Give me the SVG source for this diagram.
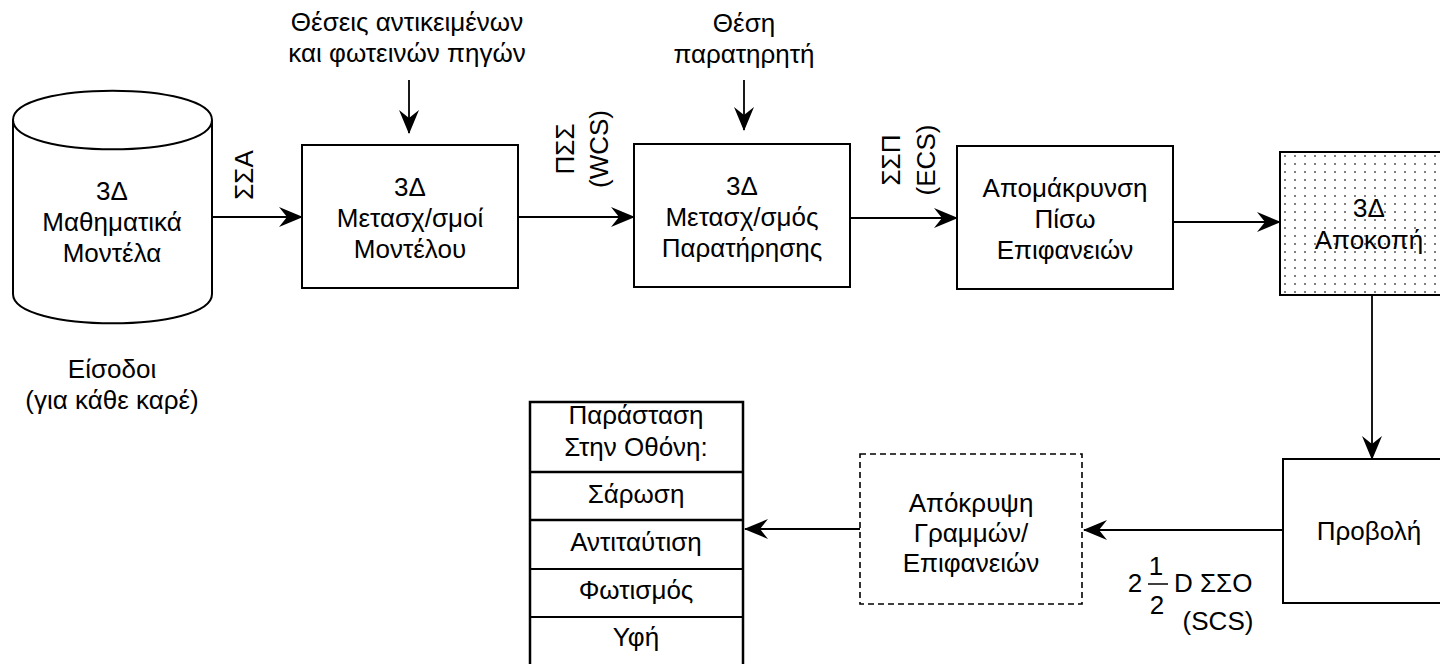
<svg xmlns="http://www.w3.org/2000/svg" width="1440" height="664" viewBox="0 0 1440 664">
<style>
text{font-family:"Liberation Sans",Arial,sans-serif;font-size:26px;fill:#000;text-anchor:middle}
.box{fill:#fff;stroke:#000;stroke-width:2}
.dash{fill:#fff;stroke:#000;stroke-width:1.6;stroke-dasharray:6 4}
.ln{fill:none;stroke:#000;stroke-width:1.8}
.st{text-anchor:start}
</style>
<defs>
<marker id="ah" viewBox="0 0 24 20" refX="23" refY="10" markerWidth="24" markerHeight="20" markerUnits="userSpaceOnUse" orient="auto">
<path d="M0,0 L24,10 L0,20 L8,10 Z" fill="#000"/>
</marker>
<pattern id="dots" width="10" height="8" patternUnits="userSpaceOnUse" x="1280" y="152">
<circle cx="5" cy="4" r="1" fill="#555"/>
</pattern>
</defs>
<rect width="1440" height="664" fill="#fff"/>

<g id="connectors">
<line class="ln" x1="212" y1="217" x2="302" y2="217" marker-end="url(#ah)"/>
<line class="ln" x1="518" y1="217" x2="634" y2="217" marker-end="url(#ah)"/>
<line class="ln" x1="850" y1="218" x2="957" y2="218" marker-end="url(#ah)"/>
<line class="ln" x1="1173" y1="222" x2="1280" y2="222" marker-end="url(#ah)"/>
<line class="ln" x1="1372" y1="295" x2="1372" y2="459" marker-end="url(#ah)"/>
<line class="ln" x1="1283" y1="530" x2="1084" y2="530" marker-end="url(#ah)"/>
<line class="ln" x1="860" y1="529" x2="745" y2="529" marker-end="url(#ah)"/>
<line class="ln" x1="409" y1="80" x2="409" y2="133" marker-end="url(#ah)"/>
<line class="ln" x1="744" y1="80" x2="744" y2="130" marker-end="url(#ah)"/>
<text transform="translate(253,175) rotate(-90)">ΣΣΑ</text>
<text transform="translate(574,149) rotate(-90)">ΠΣΣ</text>
<text transform="translate(608,149) rotate(-90)">(WCS)</text>
<text transform="translate(900,160) rotate(-90)">ΣΣΠ</text>
<text transform="translate(935,160) rotate(-90)">(ECS)</text>
<text x="1135" y="592">2</text>
<text x="1156" y="575">1</text>
<line x1="1148" y1="584" x2="1168" y2="584" stroke="#000" stroke-width="1.5"/>
<text x="1157" y="614">2</text>
<text class="st" x="1174" y="592">D ΣΣΟ</text>
<text x="1218" y="630">(SCS)</text>
</g>

<g id="input-models">
<path d="M13,120 C13,81 212,81 212,120 L212,294 C212,333 13,333 13,294 Z" fill="#fff" stroke="#000" stroke-width="2"/>
<path d="M13,120 C13,159 212,159 212,120" fill="none" stroke="#000" stroke-width="2"/>
<text x="112" y="200">3Δ</text>
<text x="112" y="231">Μαθηματικά</text>
<text x="112" y="262">Μοντέλα</text>
</g>

<g id="inputs-label">
<text x="112" y="378">Είσοδοι</text>
<text x="112" y="409">(για κάθε καρέ)</text>
</g>

<g id="objects-label">
<text x="407" y="31">Θέσεις αντικειμένων</text>
<text x="407" y="62">και φωτεινών πηγών</text>
</g>

<g id="viewer-label">
<text x="744" y="32">Θέση</text>
<text x="744" y="63">παρατηρητή</text>
</g>

<g id="model-transform">
<rect class="box" x="302" y="145" width="216" height="143"/>
<text x="410" y="196">3Δ</text>
<text x="410" y="227">Μετασχ/σμοί</text>
<text x="410" y="258">Μοντέλου</text>
</g>

<g id="view-transform">
<rect class="box" x="634" y="144" width="216" height="143"/>
<text x="742" y="195">3Δ</text>
<text x="742" y="226">Μετασχ/σμός</text>
<text x="742" y="257">Παρατήρησης</text>
</g>

<g id="backface-removal">
<rect class="box" x="957" y="146" width="216" height="143"/>
<text x="1065" y="197">Απομάκρυνση</text>
<text x="1065" y="228">Πίσω</text>
<text x="1065" y="259">Επιφανειών</text>
</g>

<g id="clipping">
<rect x="1280" y="152" width="184" height="143" fill="#fff"/>
<rect x="1280" y="152" width="184" height="143" fill="url(#dots)" stroke="#000" stroke-width="2"/>
<text x="1369" y="217">3Δ</text>
<text x="1369" y="249">Αποκοπή</text>
</g>

<g id="projection">
<rect class="box" x="1283" y="459" width="178" height="144"/>
<text x="1369" y="540">Προβολή</text>
</g>

<g id="hidden-removal">
<rect class="dash" x="860" y="454" width="222" height="150"/>
<text x="971" y="512">Απόκρυψη</text>
<text x="971" y="542">Γραμμών/</text>
<text x="971" y="572">Επιφανειών</text>
</g>

<g id="display-list">
<rect x="530" y="402" width="213" height="264" fill="#fff" stroke="#000" stroke-width="2.5"/>
<line x1="530" y1="472" x2="743" y2="472" stroke="#000" stroke-width="2.5"/>
<line x1="530" y1="520" x2="743" y2="520" stroke="#000" stroke-width="2.5"/>
<line x1="530" y1="569" x2="743" y2="569" stroke="#000" stroke-width="2"/>
<line x1="530" y1="617" x2="743" y2="617" stroke="#000" stroke-width="2"/>
<text x="636" y="424">Παράσταση</text>
<text x="636" y="456">Στην Οθόνη:</text>
<text x="636" y="503">Σάρωση</text>
<text x="636" y="551">Αντιταύτιση</text>
<text x="636" y="599">Φωτισμός</text>
<text x="636" y="646">Υφή</text>
</g>
</svg>
